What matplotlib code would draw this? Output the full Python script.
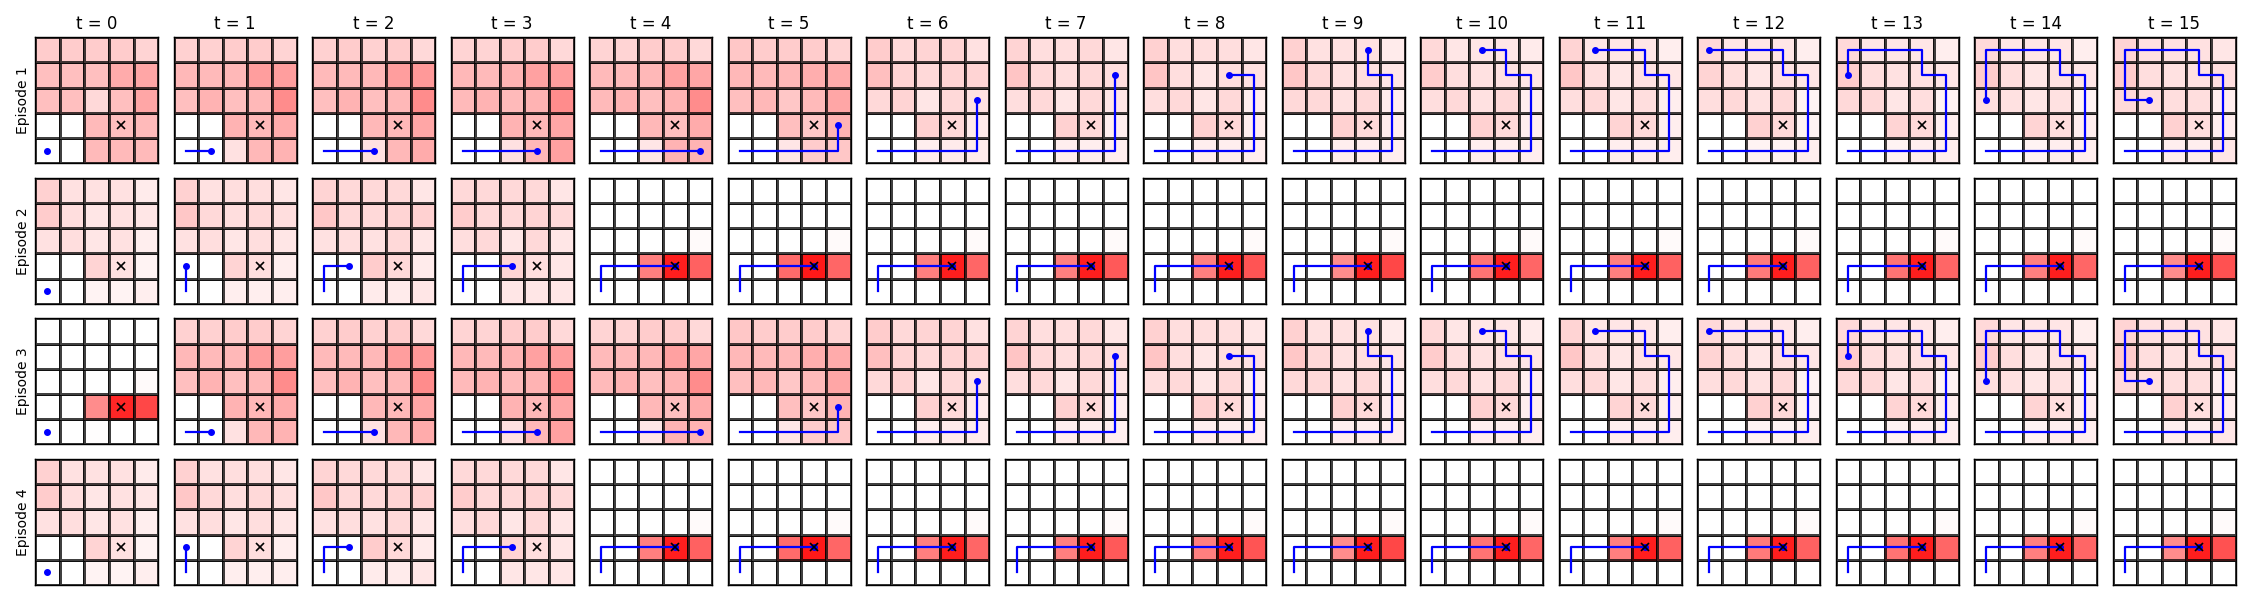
import numpy as np
import matplotlib
matplotlib.use("Agg")
import matplotlib.pyplot as plt
from matplotlib.colors import LinearSegmentedColormap

n_steps = 16
goal = (3, 1)

# paths: (col, row) of the agent at each step, row 0 = bottom
path_a = [(0, 0), (1, 0), (2, 0), (3, 0), (4, 0), (4, 1), (4, 2), (4, 3),
          (3, 3), (3, 4), (2, 4), (1, 4), (0, 4), (0, 3), (0, 2), (1, 2)]
path_b = [(0, 0), (0, 1), (1, 1), (2, 1), (3, 1), (3, 1), (3, 1), (3, 1),
          (3, 1), (3, 1), (3, 1), (3, 1), (3, 1), (3, 1), (3, 1), (3, 1)]

# heat grids, written top row first
heat_a = [
    [[0.20, 0.20, 0.20, 0.20, 0.17], [0.25, 0.25, 0.25, 0.33, 0.35], [0.25, 0.25, 0.15, 0.25, 0.35],
     [0, 0, 0.27, 0.25, 0.27], [0, 0, 0.27, 0.27, 0.27]],
    [[0.18, 0.18, 0.20, 0.20, 0.17], [0.28, 0.27, 0.28, 0.38, 0.38], [0.25, 0.30, 0.25, 0.28, 0.45],
     [0, 0, 0.30, 0.28, 0.33], [0, 0, 0.12, 0.28, 0.30]],
    [[0.18, 0.20, 0.18, 0.20, 0.15], [0.27, 0.27, 0.28, 0.38, 0.40], [0.25, 0.30, 0.25, 0.28, 0.45],
     [0, 0, 0.28, 0.28, 0.35], [0, 0, 0.12, 0.28, 0.33]],
    [[0.17, 0.17, 0.20, 0.20, 0.15], [0.28, 0.27, 0.30, 0.37, 0.38], [0.27, 0.30, 0.27, 0.30, 0.45],
     [0, 0, 0.30, 0.28, 0.35], [0, 0, 0.12, 0.28, 0.37]],
    [[0.17, 0.17, 0.20, 0.20, 0.15], [0.27, 0.27, 0.28, 0.37, 0.35], [0.27, 0.30, 0.25, 0.30, 0.45],
     [0, 0, 0.28, 0.25, 0.33], [0, 0, 0.10, 0.30, 0.30]],
    [[0.22, 0.20, 0.20, 0.20, 0.17], [0.28, 0.27, 0.28, 0.32, 0.33], [0.25, 0.28, 0.22, 0.27, 0.35],
     [0, 0, 0.25, 0.22, 0.30], [0, 0, 0.10, 0.20, 0.22]],
    [[0.20, 0.15, 0.17, 0.17, 0.12], [0.25, 0.17, 0.15, 0.17, 0.17], [0.15, 0.17, 0.10, 0.15, 0.12],
     [0, 0, 0.18, 0.15, 0.08], [0, 0, 0.07, 0.08, 0.08]],
    [[0.17, 0.13, 0.13, 0.15, 0.10], [0.23, 0.15, 0.13, 0.15, 0.13], [0.13, 0.15, 0.10, 0.15, 0.10],
     [0, 0, 0.18, 0.15, 0.07], [0, 0, 0.07, 0.07, 0.07]],
    [[0.18, 0.13, 0.13, 0.13, 0.10], [0.23, 0.13, 0.10, 0.13, 0.12], [0.13, 0.15, 0.10, 0.15, 0.07],
     [0, 0, 0.18, 0.15, 0.07], [0, 0, 0.07, 0.07, 0.07]],
    [[0.18, 0.12, 0.12, 0.12, 0.08], [0.22, 0.15, 0.12, 0.13, 0.10], [0.15, 0.15, 0.12, 0.15, 0.07],
     [0, 0, 0.18, 0.15, 0.07], [0, 0, 0.07, 0.07, 0.07]],
    [[0.15, 0.10, 0.10, 0.10, 0.08], [0.20, 0.13, 0.12, 0.12, 0.10], [0.13, 0.15, 0.12, 0.15, 0.07],
     [0, 0, 0.18, 0.15, 0.07], [0, 0, 0.07, 0.07, 0.07]],
    [[0.17, 0.10, 0.10, 0.10, 0.07], [0.22, 0.13, 0.10, 0.12, 0.10], [0.13, 0.15, 0.10, 0.13, 0.07],
     [0, 0, 0.17, 0.15, 0.07], [0, 0, 0.07, 0.07, 0.07]],
    [[0.15, 0.10, 0.10, 0.10, 0.07], [0.17, 0.13, 0.10, 0.12, 0.10], [0.13, 0.15, 0.12, 0.15, 0.05],
     [0, 0, 0.18, 0.15, 0.05], [0, 0, 0.05, 0.05, 0.07]],
    [[0.15, 0.10, 0.10, 0.10, 0.07], [0.20, 0.13, 0.12, 0.12, 0.10], [0.15, 0.15, 0.10, 0.13, 0.05],
     [0, 0, 0.17, 0.15, 0.07], [0, 0, 0.05, 0.07, 0.07]],
    [[0.15, 0.10, 0.10, 0.10, 0.07], [0.20, 0.13, 0.10, 0.12, 0.10], [0.13, 0.12, 0.10, 0.12, 0.05],
     [0, 0, 0.17, 0.13, 0.07], [0, 0, 0.05, 0.07, 0.07]],
    [[0.17, 0.12, 0.12, 0.12, 0.10], [0.20, 0.13, 0.12, 0.12, 0.13], [0.15, 0.13, 0.13, 0.13, 0.07],
     [0, 0, 0.18, 0.13, 0.07], [0, 0, 0.07, 0.07, 0.10]],
]

heat_b_early = [
    [[0.18, 0.12, 0.12, 0.12, 0.08], [0.20, 0.13, 0.10, 0.12, 0.10], [0.12, 0.13, 0.10, 0.12, 0.07],
     [0, 0, 0.17, 0.12, 0.05], [0, 0, 0.05, 0.05, 0.07]],
    [[0.18, 0.12, 0.13, 0.13, 0.10], [0.22, 0.15, 0.13, 0.15, 0.13], [0.12, 0.13, 0.10, 0.13, 0.10],
     [0, 0, 0.17, 0.13, 0.07], [0, 0, 0.07, 0.07, 0.07]],
    [[0.17, 0.15, 0.15, 0.15, 0.10], [0.22, 0.15, 0.15, 0.17, 0.18], [0.12, 0.13, 0.12, 0.15, 0.10],
     [0, 0, 0.20, 0.15, 0.08], [0, 0, 0.08, 0.08, 0.10]],
    [[0.15, 0.15, 0.15, 0.15, 0.10], [0.20, 0.15, 0.15, 0.17, 0.15], [0.13, 0.15, 0.10, 0.15, 0.10],
     [0, 0, 0.17, 0.13, 0.10], [0, 0, 0.10, 0.10, 0.10]],
]

# once the goal is reached (t = 4..15) only a few cells stay lit
late_left = [0.50, 0.58, 0.50, 0.50, 0.50, 0.45, 0.55, 0.50, 0.52, 0.55, 0.50, 0.45]
late_goal = [0.88, 0.90, 0.88, 0.88, 0.88, 0.88, 0.88, 0.88, 0.88, 0.88, 0.88, 0.88]
late_right = [0.62, 0.60, 0.60, 0.65, 0.67, 0.72, 0.60, 0.62, 0.62, 0.60, 0.60, 0.68]
late_above = 0.02

heat_c_start = [[0, 0, 0, 0, 0], [0, 0, 0, 0, 0], [0, 0, 0, 0, 0.02],
                [0, 0, 0.45, 0.85, 0.72], [0, 0, 0.01, 0, 0]]

heat_b_late = []
for l, g, r in zip(late_left, late_goal, late_right):
    grid = np.zeros((5, 5))
    grid[3, 2:5] = [l, g, r]
    grid[2, 4] = late_above
    heat_b_late.append(grid)

heat_b = heat_b_early + heat_b_late
heat_c = [heat_c_start] + heat_a[1:]

episodes = [
    ("Episode 1", heat_a, path_a),
    ("Episode 2", heat_b, path_b),
    ("Episode 3", heat_c, path_a),
    ("Episode 4", heat_b, path_b),
]

cmap = LinearSegmentedColormap.from_list("white_red", ["white", "red"])

fig, axes = plt.subplots(4, n_steps, figsize=(22.5, 6), dpi=100)
fig.subplots_adjust(left=0.0156, right=0.9936, top=0.938, bottom=0.025,
                    wspace=0.126, hspace=0.115)

for i, (label, heats, path) in enumerate(episodes):
    for t in range(n_steps):
        ax = axes[i, t]
        grid = np.flipud(np.array(heats[t], dtype=float))
        ax.pcolormesh(np.arange(6), np.arange(6), grid, cmap=cmap, vmin=0, vmax=1,
                      edgecolors=(0, 0, 0, 0.75), linewidth=0.8)
        xs = [p[0] + 0.5 for p in path[:t + 1]]
        ys = [p[1] + 0.5 for p in path[:t + 1]]
        ax.plot(xs, ys, color="blue", lw=1.6)
        ax.plot(xs[-1], ys[-1], "o", color="blue", ms=4)
        ax.plot(goal[0] + 0.5, goal[1] + 0.5, "x", color="black", ms=6, mew=1.2)
        ax.set_xlim(0, 5)
        ax.set_ylim(0, 5)
        ax.set_xticks([])
        ax.set_yticks([])
        for s in ax.spines.values():
            s.set_linewidth(1.0)
        if i == 0:
            ax.set_title(f"t = {t}", fontsize=12)
        if t == 0:
            ax.set_ylabel(label, fontsize=10)

fig.savefig("out.png")
